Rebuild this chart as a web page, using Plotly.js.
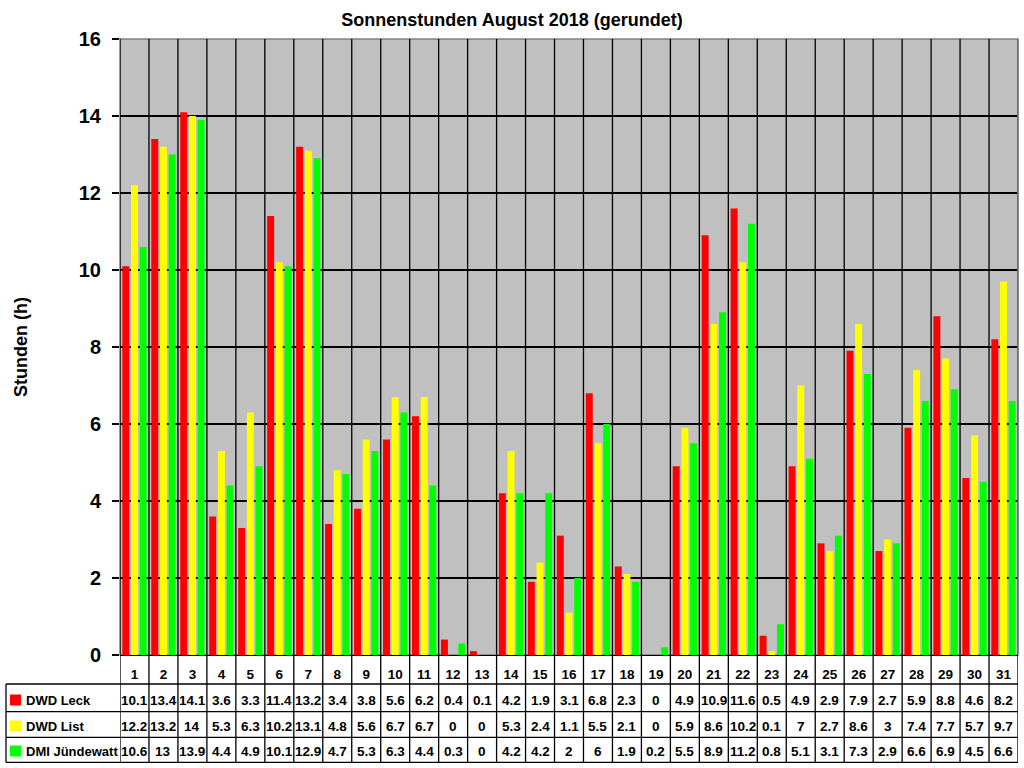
<!DOCTYPE html>
<html>
<head>
<meta charset="utf-8">
<script src="https://cdn.plot.ly/plotly-3.0.1.min.js"></script>
<style>
  html, body { margin: 0; padding: 0; background: #fff; }
  #chart { width: 1024px; height: 768px; }
</style>
</head>
<body>
<div id="chart"></div>
<script>
// Sonnenstunden je Tag, August 2018 (gerundet)
const days = Array.from({ length: 31 }, (_, i) => i + 1);
const dwdLeck = [10.1, 13.4, 14.1, 3.6, 3.3, 11.4, 13.2, 3.4, 3.8, 5.6, 6.2, 0.4, 0.1, 4.2, 1.9, 3.1,
                 6.8, 2.3, 0, 4.9, 10.9, 11.6, 0.5, 4.9, 2.9, 7.9, 2.7, 5.9, 8.8, 4.6, 8.2];
const dwdList = [12.2, 13.2, 14, 5.3, 6.3, 10.2, 13.1, 4.8, 5.6, 6.7, 6.7, 0, 0, 5.3, 2.4, 1.1,
                 5.5, 2.1, 0, 5.9, 8.6, 10.2, 0.1, 7, 2.7, 8.6, 3, 7.4, 7.7, 5.7, 9.7];
const dmiJuendewatt = [10.6, 13, 13.9, 4.4, 4.9, 10.1, 12.9, 4.7, 5.3, 6.3, 4.4, 0.3, 0, 4.2, 4.2, 2,
                       6, 1.9, 0.2, 5.5, 8.9, 11.2, 0.8, 5.1, 3.1, 7.3, 2.9, 6.6, 6.9, 4.5, 6.6];
const seriesNames = ['DWD Leck', 'DWD List', 'DMI Jündewatt'];
const seriesColors = ['#FF0000', '#FFFF00', '#00FF00'];
const seriesValues = [dwdLeck, dwdList, dmiJuendewatt];

const FONT = 'Arial, "Liberation Sans", sans-serif';

// pixel helpers: plot area is 120..1018 x 39..655
const plotTop = 39, plotBottom = 655, plotLeft = 120, plotRight = 1018;
const py = p => (plotBottom - p) / (plotBottom - plotTop);
const px = p => (p - plotLeft) / (plotRight - plotLeft);

const traces = seriesValues.map((vals, i) => ({
  type: 'bar', x: days, y: vals, name: seriesNames[i],
  marker: { color: seriesColors[i], line: { width: 0 } },
  hoverinfo: 'x+y+name'
}));

// table geometry
const rowLines = [684, 711.7, 737.3, 762.3];
const rowCenters = [700, 726, 751];

const shapes = [];
// outer border (grey top/right)
shapes.push({ type: 'rect', xref: 'paper', yref: 'paper', x0: 0, x1: 1, y0: 0, y1: 1,
  line: { color: '#808080', width: 1.5 }, layer: 'below' });
// vertical separators through plot and table
for (let d = 0; d <= days.length; d++) {
  shapes.push({ type: 'line', xref: 'x', yref: 'paper', x0: d + 0.5, x1: d + 0.5,
    y0: py(rowLines[3]), y1: 1,
    line: { color: '#000', width: 1.3 }, layer: d === days.length ? 'above' : 'below' });
}
// right edge of plot is grey
shapes.push({ type: 'line', xref: 'paper', yref: 'paper', x0: 1, x1: 1, y0: 0, y1: 1,
  line: { color: '#808080', width: 1.5 }, layer: 'above' });
// horizontal table lines
rowLines.forEach(r => {
  shapes.push({ type: 'line', xref: 'paper', yref: 'paper', x0: px(6), x1: 1, y0: py(r), y1: py(r),
    line: { color: '#000', width: 1.3 } });
});
// left table border
shapes.push({ type: 'line', xref: 'paper', yref: 'paper', x0: px(6), x1: px(6),
  y0: py(rowLines[0]), y1: py(rowLines[3]), line: { color: '#000', width: 1.3 } });
// legend keys
seriesColors.forEach((c, i) => {
  shapes.push({ type: 'rect', xref: 'paper', yref: 'paper', x0: px(10), x1: px(21),
    y0: py(rowCenters[i] - 5.5), y1: py(rowCenters[i] + 5.5),
    fillcolor: c, line: { width: 0 } });
});

const annotations = [];
seriesNames.forEach((n, i) => {
  annotations.push({ xref: 'paper', yref: 'paper', x: px(24), y: py(rowCenters[i]),
    xanchor: 'left', yanchor: 'middle', showarrow: false, text: '<b>' + n + '</b>',
    font: { family: FONT, size: 13, color: '#000' } });
  seriesValues[i].forEach((v, k) => {
    annotations.push({ xref: 'x', yref: 'paper', x: days[k], y: py(rowCenters[i]),
      xanchor: 'center', yanchor: 'middle', showarrow: false, text: '<b>' + v + '</b>',
      font: { family: FONT, size: 13.5, color: '#000' } });
  });
});

const layout = {
  width: 1024, height: 768,
  paper_bgcolor: '#fff', plot_bgcolor: '#C0C0C0',
  margin: { l: plotLeft, r: 1024 - plotRight, t: plotTop, b: 768 - plotBottom },
  font: { family: FONT, color: '#000' },
  title: { text: '<b>Sonnenstunden August 2018 (gerundet)</b>', x: 0.5, xanchor: 'center',
    y: 1 - 20 / 768, yanchor: 'middle', font: { family: FONT, size: 18, color: '#000' } },
  showlegend: false,
  barmode: 'group', bargap: 0.1, bargroupgap: 0.2,
  xaxis: {
    range: [0.5, days.length + 0.5], tickmode: 'array', tickvals: days,
    ticktext: days.map(d => '<b>' + d + '</b>'),
    tickfont: { family: FONT, size: 13.5, color: '#000' },
    ticks: '', ticklabelstandoff: 6,
    showgrid: false, zeroline: false, showline: true, linecolor: '#000', linewidth: 1.3,
    fixedrange: true
  },
  yaxis: {
    range: [0, 16], dtick: 2, tick0: 0,
    tickfont: { family: FONT, size: 20, color: '#000' },
    tickprefix: '<b>', ticksuffix: '</b>',
    ticks: 'outside', ticklen: 7, tickcolor: '#000', tickwidth: 1.3, ticklabelstandoff: 7,
    showgrid: true, gridcolor: '#000', gridwidth: 1.3, zeroline: false, showline: false,
    title: { text: '<b>Stunden (h)</b>', font: { family: FONT, size: 18, color: '#000' }, standoff: 46 },
    fixedrange: true
  },
  shapes: shapes,
  annotations: annotations
};

Plotly.newPlot('chart', traces, layout, { displayModeBar: false, staticPlot: true });
</script>
</body>
</html>
